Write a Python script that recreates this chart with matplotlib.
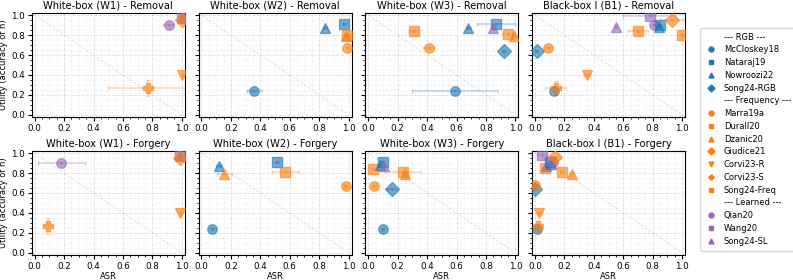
import numpy as np
import matplotlib
matplotlib.use("Agg")
import matplotlib.pyplot as plt
from matplotlib.lines import Line2D

# ---- methods (name, group, marker) ----
rgb_methods = ["McCloskey18", "Nataraj19", "Nowroozi22", "Song24-RGB"]
freq_methods = ["Marra19a", "Durall20", "Dzanic20", "Giudice21", "Corvi23-R", "Corvi23-S", "Song24-Freq"]
learned_methods = ["Qian20", "Wang20", "Song24-SL"]

markers = {
    "McCloskey18": "o", "Nataraj19": "s", "Nowroozi22": "^", "Song24-RGB": "D",
    "Marra19a": "o", "Durall20": "s", "Dzanic20": "^", "Giudice21": "D",
    "Corvi23-R": "v", "Corvi23-S": "P", "Song24-Freq": "s",
    "Qian20": "o", "Wang20": "s", "Song24-SL": "^",
}
group_color = {"rgb": "tab:blue", "freq": "tab:orange", "learned": "tab:purple"}

# ---- data: method -> (ASR, utility, ASR err, utility err) ----
w1_removal = {
    "Qian20": (0.91, 0.90, 0.04, 0.01),
    "Wang20": (1.00, 0.98, 0.0, 0.01),
    "Song24-SL": (1.00, 0.97, 0.0, 0.01),
    "Giudice21": (1.00, 0.95, 0.0, 0.01),
    "Corvi23-R": (1.00, 0.40, 0.0, 0.01),
    "Corvi23-S": (0.77, 0.27, 0.27, 0.08),
}
w2_removal = {
    "McCloskey18": (0.36, 0.24, 0.05, 0.01),
    "Nowroozi22": (0.84, 0.87, 0.01, 0.01),
    "Nataraj19": (0.97, 0.915, 0.01, 0.01),
    "Durall20": (0.99, 0.80, 0.01, 0.01),
    "Dzanic20": (0.98, 0.79, 0.01, 0.01),
    "Marra19a": (0.99, 0.67, 0.01, 0.01),
}
w3_removal = {
    "Song24-Freq": (0.31, 0.84, 0.03, 0.01),
    "Marra19a": (0.41, 0.67, 0.04, 0.01),
    "Nowroozi22": (0.68, 0.87, 0.01, 0.01),
    "Nataraj19": (0.87, 0.915, 0.13, 0.01),
    "Song24-SL": (0.85, 0.87, 0.01, 0.01),
    "Durall20": (0.95, 0.81, 0.04, 0.01),
    "Dzanic20": (0.99, 0.79, 0.01, 0.01),
    "Song24-RGB": (0.92, 0.64, 0.01, 0.01),
    "McCloskey18": (0.59, 0.24, 0.29, 0.01),
}
b1_removal = {
    "Song24-RGB": (0.01, 0.64, 0.01, 0.01),
    "Marra19a": (0.09, 0.67, 0.01, 0.01),
    "McCloskey18": (0.13, 0.24, 0.01, 0.01),
    "Corvi23-S": (0.14, 0.265, 0.07, 0.07),
    "Corvi23-R": (0.35, 0.40, 0.02, 0.01),
    "Song24-SL": (0.55, 0.88, 0.01, 0.01),
    "Song24-Freq": (0.70, 0.84, 0.07, 0.01),
    "Wang20": (0.78, 0.99, 0.18, 0.01),
    "Qian20": (0.81, 0.905, 0.01, 0.01),
    "Nataraj19": (0.85, 0.905, 0.01, 0.01),
    "Nowroozi22": (0.84, 0.88, 0.01, 0.01),
    "Giudice21": (0.93, 0.95, 0.08, 0.01),
    "Durall20": (1.00, 0.80, 0.01, 0.01),
}
w1_forgery = {
    "Qian20": (0.18, 0.90, 0.16, 0.01),
    "Wang20": (0.99, 0.98, 0.0, 0.01),
    "Song24-SL": (0.99, 0.97, 0.0, 0.01),
    "Giudice21": (0.99, 0.95, 0.0, 0.01),
    "Corvi23-R": (0.99, 0.40, 0.0, 0.01),
    "Corvi23-S": (0.09, 0.27, 0.03, 0.08),
}
w2_forgery = {
    "Nowroozi22": (0.12, 0.87, 0.02, 0.01),
    "Dzanic20": (0.155, 0.79, 0.05, 0.01),
    "McCloskey18": (0.075, 0.24, 0.01, 0.01),
    "Nataraj19": (0.515, 0.915, 0.01, 0.01),
    "Durall20": (0.57, 0.81, 0.09, 0.01),
    "Marra19a": (0.98, 0.67, 0.01, 0.01),
}
w3_forgery = {
    "Song24-Freq": (0.03, 0.845, 0.01, 0.01),
    "Nowroozi22": (0.08, 0.88, 0.01, 0.01),
    "Nataraj19": (0.10, 0.915, 0.01, 0.01),
    "Song24-SL": (0.11, 0.875, 0.01, 0.01),
    "Marra19a": (0.04, 0.67, 0.01, 0.01),
    "Song24-RGB": (0.16, 0.64, 0.03, 0.01),
    "McCloskey18": (0.10, 0.24, 0.01, 0.01),
    "Durall20": (0.235, 0.81, 0.12, 0.01),
    "Dzanic20": (0.25, 0.79, 0.01, 0.01),
}
b1_forgery = {
    "McCloskey18": (0.01, 0.24, 0.01, 0.01),
    "Corvi23-S": (0.02, 0.27, 0.01, 0.05),
    "Corvi23-R": (0.03, 0.40, 0.01, 0.01),
    "Song24-RGB": (0.00, 0.64, 0.01, 0.01),
    "Marra19a": (0.00, 0.68, 0.01, 0.01),
    "Wang20": (0.05, 0.985, 0.04, 0.01),
    "Song24-Freq": (0.065, 0.855, 0.01, 0.01),
    "Song24-SL": (0.075, 0.875, 0.01, 0.01),
    "Nataraj19": (0.10, 0.915, 0.01, 0.01),
    "Nowroozi22": (0.11, 0.89, 0.01, 0.01),
    "Qian20": (0.12, 0.915, 0.01, 0.01),
    "Giudice21": (0.135, 0.96, 0.03, 0.01),
    "Durall20": (0.18, 0.81, 0.01, 0.01),
    "Dzanic20": (0.25, 0.79, 0.01, 0.01),
}

titles = [
    "White-box (W1) - Removal", "White-box (W2) - Removal",
    "White-box (W3) - Removal", "Black-box I (B1) - Removal",
    "White-box (W1) - Forgery", "White-box (W2) - Forgery",
    "White-box (W3) - Forgery", "Black-box I (B1) - Forgery",
]
panels = [w1_removal, w2_removal, w3_removal, b1_removal,
          w1_forgery, w2_forgery, w3_forgery, b1_forgery]


def color_of(name):
    if name in rgb_methods:
        return group_color["rgb"]
    if name in freq_methods:
        return group_color["freq"]
    return group_color["learned"]


fs = 6.0
fig, axes = plt.subplots(2, 4, figsize=(7.93, 2.8), dpi=100, sharey=True)
fig.subplots_adjust(left=0.040, right=0.864, bottom=0.09, top=0.953,
                    wspace=0.09, hspace=0.33)

for ax, title, data in zip(axes.flat, titles, panels):
    ax.plot([0, 1], [1, 0], color="grey", lw=0.6, ls="--", alpha=0.25, zorder=1)
    for name, (x, y, xe, ye) in data.items():
        c = color_of(name)
        ax.errorbar(x, y, xerr=xe, yerr=ye, fmt="none", ecolor=c,
                    alpha=0.3, elinewidth=1.2, capsize=1.5, zorder=2)
        ax.plot(x, y, marker=markers[name], color=c, ms=6.8, alpha=0.6,
                ls="none", mec=c, zorder=3)
    ax.set_xlim(-0.02, 1.02)
    ax.set_ylim(-0.02, 1.02)
    ax.set_xticks(np.arange(0, 1.01, 0.2))
    ax.set_yticks(np.arange(0, 1.01, 0.2))
    ax.minorticks_on()
    ax.grid(True, which="major", ls="--", lw=0.6, alpha=0.4)
    ax.grid(True, which="minor", ls=":", lw=0.5, alpha=0.3)
    ax.tick_params(labelsize=6.3, length=3, pad=2)
    ax.tick_params(which="minor", length=1.5)
    ax.set_title(title, fontsize=7.1, pad=3)

for ax in axes[1]:
    ax.set_xlabel("ASR", fontsize=fs, labelpad=1)
for ax in axes[:, 0]:
    ax.set_ylabel("Utility (accuracy of h)", fontsize=6.0, labelpad=2)

# legend with group headers
handles, labels = [], []
for header, names in [("--- RGB ---", rgb_methods),
                      ("--- Frequency ---", freq_methods),
                      ("--- Learned ---", learned_methods)]:
    handles.append(Line2D([], [], ls="none", marker=None))
    labels.append(header)
    for n in names:
        handles.append(Line2D([], [], ls="none", marker=markers[n],
                              color=color_of(n), ms=3.5))
        labels.append(n)

fig.legend(handles, labels, loc="center left", bbox_to_anchor=(0.878, 0.503),
           fontsize=fs, frameon=True, handlelength=1.4, handletextpad=0.8,
           labelspacing=0.45, borderpad=0.6)

fig.savefig("out.png", dpi=100)
